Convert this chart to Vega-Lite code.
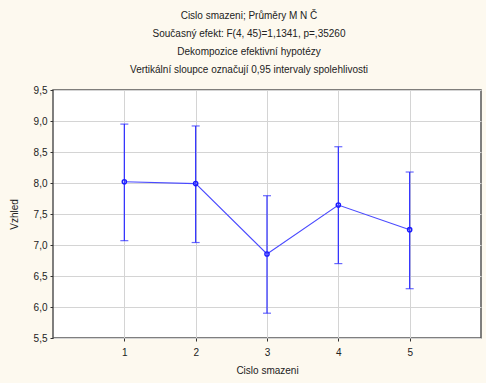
{
  "$schema": "https://vega.github.io/schema/vega-lite/v6.json",
  "autosize": "none",
  "width": 428,
  "height": 248,
  "padding": {"left": 53, "top": 90, "right": 5, "bottom": 45},
  "background": "#fdf9ef",
  "title": {
    "text": [
      "Cislo smazeni; Průměry M N Č",
      "Současný efekt: F(4, 45)=1,1341, p=,35260",
      "Dekompozice efektivní hypotézy",
      "Vertikální sloupce označují 0,95 intervaly spolehlivosti"
    ],
    "font": "Liberation Sans",
    "fontSize": 10,
    "fontWeight": "normal",
    "color": "#222222",
    "lineHeight": 18,
    "anchor": "middle",
    "dx": -18,
    "offset": 10
  },
  "config": {
    "view": {"fill": "white", "stroke": "#555555", "strokeWidth": 1.5},
    "axis": {
      "labelFont": "Liberation Sans",
      "labelFontSize": 10,
      "labelColor": "#222222",
      "titleFont": "Liberation Sans",
      "titleFontSize": 10,
      "titleFontWeight": "normal",
      "titleColor": "#222222",
      "domain": false,
      "tickColor": "#333333",
      "tickSize": 3
    }
  },
  "data": {
    "values": [
      {"cislo": 1, "mean": 8.02, "lo": 7.07, "hi": 8.95},
      {"cislo": 2, "mean": 7.99, "lo": 7.04, "hi": 8.92},
      {"cislo": 3, "mean": 6.855, "lo": 5.9, "hi": 7.795},
      {"cislo": 4, "mean": 7.645, "lo": 6.7, "hi": 8.585},
      {"cislo": 5, "mean": 7.247, "lo": 6.295, "hi": 8.177}
    ]
  },
  "encoding": {
    "x": {
      "field": "cislo",
      "type": "quantitative",
      "scale": {"domain": [0, 6], "nice": false, "zero": false},
      "axis": {
        "title": "Cislo smazeni",
        "values": [1, 2, 3, 4, 5],
        "grid": true,
        "gridColor": "#d4d4d4",
        "gridOpacity": 1,
        "gridWidth": 1,
        "labelOverlap": false,
        "labelPadding": 6,
        "titlePadding": 8
      }
    }
  },
  "layer": [
    {
      "mark": {"type": "errorbar", "thickness": 1.2, "ticks": {"size": 8}},
      "encoding": {
        "color": {"value": "#2a2aff"},
        "y": {
          "field": "lo",
          "type": "quantitative",
          "scale": {"domain": [5.5, 9.5], "nice": false, "zero": false},
          "axis": {
            "title": "Vzhled",
            "values": [5.5, 6, 6.5, 7, 7.5, 8, 8.5, 9, 9.5],
            "grid": true,
            "gridColor": "#d4d4d4",
            "gridOpacity": 1,
            "gridWidth": 1,
            "labelOverlap": false,
            "labelExpr": "replace(format(datum.value, '.1f'), '.', ',')",
            "labelPadding": 3,
            "titlePadding": 14
          }
        },
        "y2": {"field": "hi"}
      }
    },
    {
      "mark": {"type": "line", "color": "#4a4aff", "strokeWidth": 1.1},
      "encoding": {
        "y": {
          "field": "mean",
          "type": "quantitative",
          "scale": {"domain": [5.5, 9.5], "nice": false, "zero": false},
          "axis": {
            "title": "Vzhled",
            "values": [5.5, 6, 6.5, 7, 7.5, 8, 8.5, 9, 9.5],
            "grid": true,
            "gridColor": "#d4d4d4",
            "gridOpacity": 1,
            "gridWidth": 1,
            "labelOverlap": false,
            "labelExpr": "replace(format(datum.value, '.1f'), '.', ',')",
            "labelPadding": 3,
            "titlePadding": 14
          }
        }
      }
    },
    {
      "mark": {"type": "point", "filled": false, "color": "#1a1aff", "size": 18, "strokeWidth": 1.4, "opacity": 1},
      "encoding": {
        "y": {
          "field": "mean",
          "type": "quantitative",
          "scale": {"domain": [5.5, 9.5], "nice": false, "zero": false},
          "axis": {
            "title": "Vzhled",
            "values": [5.5, 6, 6.5, 7, 7.5, 8, 8.5, 9, 9.5],
            "grid": true,
            "gridColor": "#d4d4d4",
            "gridOpacity": 1,
            "gridWidth": 1,
            "labelOverlap": false,
            "labelExpr": "replace(format(datum.value, '.1f'), '.', ',')",
            "labelPadding": 3,
            "titlePadding": 14
          }
        }
      }
    }
  ]
}
